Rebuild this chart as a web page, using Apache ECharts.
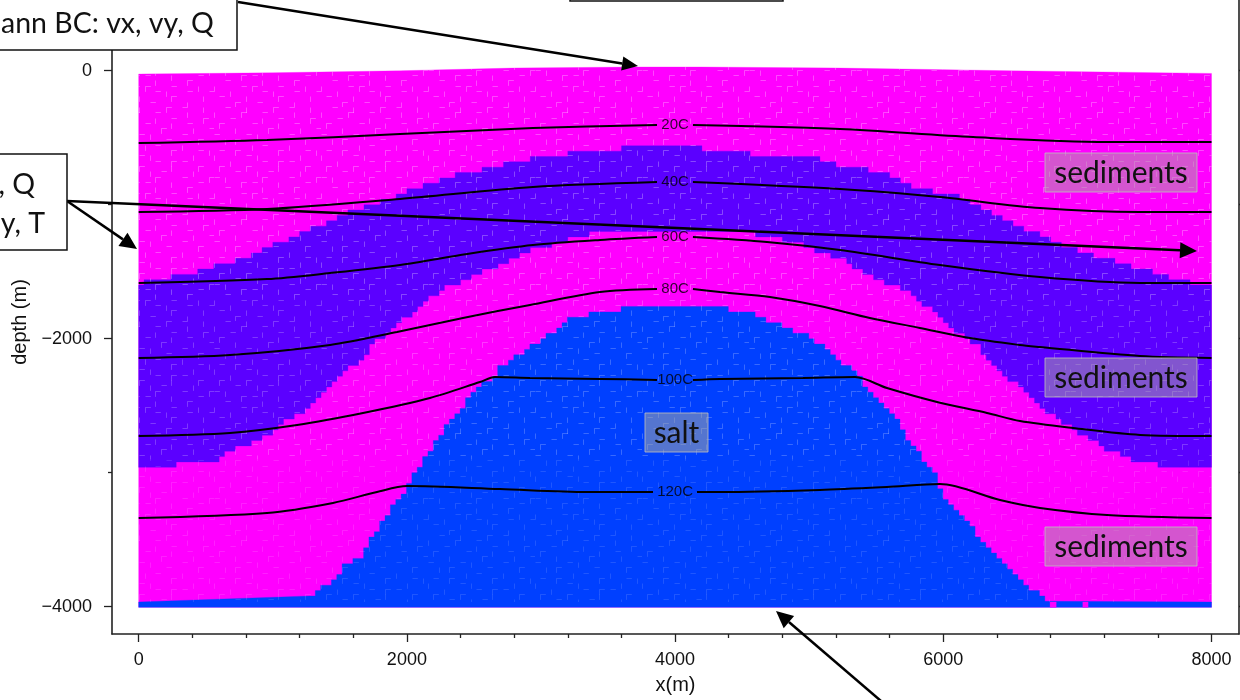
<!DOCTYPE html>
<html><head><meta charset="utf-8">
<style>html,body{margin:0;padding:0;background:#fff}#c{width:1240px;height:700px}</style>
<script src="https://cdn.jsdelivr.net/npm/echarts@6/dist/echarts.min.js"></script>
</head><body><div id="c"></div>
<script>
// ----- values (x in m, depth in m) -----
const surfaceTop = [[0,-25],[1000,-15],[1950,0],[2790,20],[3690,28],[4190,28],[5230,20],[6500,0],[8000,-20]];
const domainBottom = -4005;
const saltSheetTop = -3965;
const saltSheetGaps = [[6796,6842],[7040,7080]];
const purpleTop = [[0,-1592],[278,-1532],[480,-1495],[606,-1450],[770,-1412],[1039,-1286],[1166,-1241],[1330,-1166],[1523,-1077],[1725,-1002],[1949,-928],[2045,-875],[2195,-838],[2321,-793],[2485,-756],[2679,-711],[2881,-666],[3164,-622],[3642,-577],[4201,-577],[4357,-614],[4842,-629],[5118,-666],[5230,-711],[5528,-749],[5804,-875],[6088,-928],[6274,-1017],[6475,-1129],[6684,-1211],[6848,-1286],[7042,-1360],[7280,-1412],[7407,-1465],[7564,-1502],[7676,-1539],[7691,-1577],[8000,-1584]];
const purpleBottom = [[0,-2965],[250,-2943],[554,-2921],[644,-2868],[755,-2808],[964,-2718],[1106,-2607],[1240,-2532],[1330,-2443],[1479,-2293],[1628,-2181],[1762,-2032],[1889,-1920],[2045,-1801],[2262,-1636],[2381,-1584],[2530,-1510],[2746,-1427],[2918,-1338],[2992,-1323],[3164,-1278],[3291,-1226],[3604,-1189],[4335,-1204],[4685,-1226],[4879,-1278],[5006,-1323],[5118,-1375],[5230,-1391],[5327,-1465],[5517,-1562],[5714,-1636],[5878,-1763],[5990,-1845],[6072,-1935],[6251,-2047],[6400,-2211],[6482,-2323],[6572,-2345],[6669,-2458],[6870,-2607],[7072,-2734],[7191,-2809],[7445,-2920],[7765,-2958],[8000,-2965]];
const saltTop = [[1277,-3965],[1315,-3890],[1404,-3838],[1449,-3801],[1523,-3711],[1561,-3674],[1650,-3637],[1688,-3562],[1762,-3450],[1852,-3331],[1926,-3204],[2001,-3152],[2045,-3003],[2150,-2883],[2232,-2756],[2321,-2607],[2418,-2510],[2523,-2361],[2642,-2286],[2717,-2196],[2844,-2122],[2918,-2069],[3030,-1990],[3217,-1860],[3358,-1823],[3567,-1786],[3723,-1741],[4089,-1741],[4283,-1741],[4432,-1786],[4633,-1823],[4722,-1875],[4842,-1913],[4917,-1950],[5006,-1987],[5118,-2069],[5208,-2144],[5320,-2233],[5402,-2323],[5528,-2473],[5640,-2584],[5729,-2733],[5804,-2808],[5841,-2883],[5923,-2980],[5960,-3077],[5998,-3204],[6162,-3331],[6236,-3450],[6363,-3599],[6520,-3763],[6684,-3890],[6796,-3965]];
const contour20 = [[0,-540],[957,-517],[1949,-472],[2940,-428],[3865,-405],null,[4133,-405],[5230,-435],[6222,-495],[7221,-532],[8000,-532]];
const contour40 = [[0,-1055],[957,-1032],[1949,-957],[2940,-868],[3865,-831],null,[4133,-831],[5230,-883],[5975,-943],[6721,-1025],[7467,-1055],[8000,-1055]];
const contour60 = [[0,-1584],[957,-1555],[1427,-1510],[1949,-1450],[2449,-1368],[2940,-1301],[3440,-1263],[3865,-1241],null,[4133,-1241],[4685,-1278],[5230,-1338],[5975,-1450],[6721,-1540],[7467,-1584],[8000,-1584]];
const contour80 = [[0,-2144],[681,-2122],[1427,-2047],[1926,-1950],[2418,-1845],[2918,-1748],[3440,-1651],[3865,-1629],null,[4133,-1629],[4335,-1652],[4707,-1689],[5079,-1756],[5452,-1845],[5825,-1920],[6198,-1995],[6570,-2047],[6721,-2062],[7467,-2130],[8000,-2144]];
const contour100 = [[0,-2726],[681,-2703],[1181,-2644],[1673,-2554],[2172,-2442],[2545,-2323],[2657,-2286],[2918,-2293],[3440,-2300],[3865,-2308],null,[4133,-2308],[4335,-2300],[4953,-2293],[5342,-2286],[5580,-2368],[5953,-2472],[6326,-2554],[6572,-2614],[6967,-2666],[7467,-2718],[8000,-2726]];
const contour120 = [[0,-3338],[957,-3301],[1449,-3226],[1777,-3144],[2001,-3100],[2694,-3122],[3343,-3144],[3835,-3144],null,[4163,-3144],[4335,-3144],[5079,-3129],[5579,-3107],[5975,-3085],[6423,-3204],[6721,-3263],[7221,-3315],[8000,-3338]];
const contourLabels = [[4000,-405,'20C'],[4000,-831,'40C'],[4000,-1241,'60C'],[4000,-1629,'80C'],[4000,-2308,'100C'],[4000,-3144,'120C']];
const xMajor = [0,2000,4000,6000,8000];
const xMinor = [400,800,1200,1600,2400,2800,3200,3600,4400,4800,5200,5600,6400,6800,7200,7600];
const yMajor = [0,-2000,-4000];
const yMinor = [-1000,-3000];
const AXIS_COL = '#222';
const BOX_FONT = 'Lato, "Open Sans", sans-serif';
const CELL = 40;

// mesh texture: a hand-drawn tile of faint element edges (h = horizontal, v = vertical, b = both)
const MESH_TILE = [
  '..h...v....b..h...v.',
  'v....b...h.....v....',
  '...h.....v..h.....b.',
  '.b.....h....v..h....',
  '....v.....b.....v..h',
  'h.....h.v.....h.....',
  '..v.b......h.....b..',
  '.......v.h....v.....',
  '.h..b.......b....h.v',
  'v.....h.v.......v...',
  '...v.....h..b.h.....',
  '.b....b.....v....b..',
  '....h...v.h.....v...',
  'h.v......b....h....b',
  '.....b.h....v....h..',
  '..h......v.....b....',
  'v....h.b....h....v..',
  '...v.....h.v...h...h',
  '.h....v.....b.....v.',
  '....b...h......v....'
];
function meshPattern(alpha){
  const s=5.36,n=MESH_TILE.length,cv=document.createElement('canvas');
  cv.width=cv.height=Math.round(s*n);
  const g=cv.getContext('2d');
  g.strokeStyle='rgba(255,255,255,'+alpha+')';g.lineWidth=1;g.beginPath();
  MESH_TILE.forEach((row,j)=>{[...row].forEach((c,i)=>{
    const x=Math.round(i*s)+.5,y=Math.round(j*s)+.5;
    if(c==='h'||c==='b'){g.moveTo(x,y);g.lineTo(x+s,y);}
    if(c==='v'||c==='b'){g.moveTo(x,y);g.lineTo(x,y+s);}
  });});
  g.stroke();
  return {image:cv,repeat:'repeat'};
}
const meshUpper=meshPattern(0.28), meshMiddle=meshPattern(0.22), meshLower=meshPattern(0.12);

function depthAt(line, x){
  for(let i=1;i<line.length;i++){
    if(x<=line[i][0]){
      const a=line[i-1],b=line[i],t=(x-a[0])/((b[0]-a[0])||1);
      return a[1]+(b[1]-a[1])*t;
    }
  }
  return line[line.length-1][1];
}
// mesh cells: a boundary is drawn as a staircase of 40 m cells
function stairs(line){
  const out=[], x0=line[0][0], x1=line[line.length-1][0];
  for(let x=x0;x<x1;x+=CELL){
    const xe=Math.min(x+CELL,x1);
    const d=Math.round(depthAt(line,(x+xe)/2)/CELL)*CELL;
    out.push([x,d],[xe,d]);
  }
  return out;
}
function polygonItem(api,pts,fill){
  return {type:'polygon',shape:{points:pts.map(p=>api.coord(p))},style:{fill:fill,stroke:fill,lineWidth:0.3}};
}
function meshItem(api,pts,pat){
  return {type:'polygon',shape:{points:pts.map(p=>api.coord(p))},style:{fill:pat}};
}
const layers = {
  type:'custom',name:'materials',silent:true,clip:true,z:1,data:[[0,0]],
  renderItem(params,api){
    const band=stairs(purpleTop).concat(stairs(purpleBottom).reverse());
    const salt=stairs(saltTop).concat([[8000,saltSheetTop],[8000,domainBottom],[0,domainBottom],[0,saltSheetTop]]);
    const dom=surfaceTop.concat([[8000,domainBottom],[0,domainBottom]]);
    const gaps=saltSheetGaps.map(g=>polygonItem(api,[[g[0],saltSheetTop],[g[1],saltSheetTop],[g[1],domainBottom],[g[0],domainBottom]],'#FF00FF'));
    return {type:'group',children:[
      polygonItem(api,dom,'#FF00FF'),
      polygonItem(api,band,'#5B00FF'),
      polygonItem(api,salt,'#0040FF')
    ].concat(gaps,[
      meshItem(api,surfaceTop.concat([[8000,-1700],[0,-1700]]),meshUpper),
      meshItem(api,[[0,-1700],[8000,-1700],[8000,-2900],[0,-2900]],meshMiddle),
      meshItem(api,[[0,-2900],[8000,-2900],[8000,saltSheetTop],[0,saltSheetTop]],meshLower)
    ])};
  }
};
const contourSeries = [contour20,contour40,contour60,contour80,contour100,contour120].map((d,i)=>({
  type:'line',name:'T'+(20+i*20),data:d.map(p=>p===null?[null,null]:p),connectNulls:false,showSymbol:false,silent:true,
  smooth:0.3,lineStyle:{color:'#000',width:2},z:3
}));
const labelSeries = {
  type:'scatter',name:'contour labels',symbolSize:0,silent:true,z:4,
  data:contourLabels.map(l=>({value:[l[0],l[1]],name:l[2]})),
  label:{show:true,position:'inside',formatter:p=>p.name,color:'#000',fontFamily:'"Liberation Sans",Arial,sans-serif',fontSize:15}
};
function ax(o){return Object.assign({type:'value',scale:true,splitLine:{show:false}},o);}
const xR={min:-199,max:8205}, yR={min:-4204,max:528};
const tickS=(len)=>({show:true,length:len,lineStyle:{color:AXIS_COL,width:1.3}});
const lineS={show:true,onZero:false,lineStyle:{color:AXIS_COL,width:1.6}};
const noLine={show:false,onZero:false};
const labelFont={color:'#111',fontFamily:'"Liberation Sans",Arial,sans-serif',fontSize:18};
const nameFont={color:'#111',fontFamily:'"Liberation Sans",Arial,sans-serif',fontSize:20};
const fmt=v=>String(v).replace('-','\u2212');

function boxRect(x,y,w,h){return {type:'rect',z:20,shape:{x,y,width:w,height:h},style:{fill:'#fff',stroke:'#111',lineWidth:1.5}};}
function boxText(x,y,t,align){return {type:'text',z:21,x,y,style:{text:t,fill:'#111',font:'28.5px '+BOX_FONT,textAlign:align||'left',textVerticalAlign:'middle'}};}
function tag(x,y,w,h,t){return [
  {type:'rect',z:10,shape:{x,y,width:w,height:h},style:{fill:'rgba(170,170,160,0.5)',stroke:'rgba(190,190,190,0.8)',lineWidth:1}},
  {type:'text',z:11,x:x+w/2,y:y+h/2+1,style:{text:t,fill:'#111',font:'30px '+BOX_FONT,textAlign:'center',textVerticalAlign:'middle'}}
];}
function arrow(x0,y0,x1,y1,hl,hw){
  const dx=x1-x0,dy=y1-y0,L=Math.hypot(dx,dy),ux=dx/L,uy=dy/L;
  const bx=x1-ux*hl,by=y1-uy*hl;
  return [
    {type:'line',z:15,shape:{x1:x0,y1:y0,x2:bx,y2:by},style:{stroke:'#000',lineWidth:2.5}},
    {type:'polygon',z:15,shape:{points:[[x1,y1],[bx-uy*hw/2,by+ux*hw/2],[bx+uy*hw/2,by-ux*hw/2]]},style:{fill:'#000'}}
  ];
}
const chart=echarts.init(document.getElementById('c'),null,{renderer:'canvas'});
chart.setOption({
  animation:false,backgroundColor:'#fff',
  grid:{left:112,right:1,top:0,bottom:66,containLabel:false},
  xAxis:[
    ax({...xR,position:'bottom',name:'x(m)',nameLocation:'middle',nameGap:41,nameTextStyle:nameFont,axisLine:lineS,axisTick:{...tickS(8),customValues:xMajor},axisLabel:{...labelFont,margin:17,customValues:xMajor,formatter:fmt}}),
    ax({...xR,position:'bottom',axisLine:noLine,axisTick:{...tickS(4),customValues:xMinor},axisLabel:{show:false}})
  ],
  yAxis:[
    ax({...yR,position:'left',name:'depth (m)',nameLocation:'middle',nameGap:74,nameRotate:90,nameTextStyle:{...nameFont,padding:[0,10,0,0]},axisLine:lineS,axisTick:{...tickS(8),customValues:yMajor},axisLabel:{...labelFont,margin:20,customValues:yMajor,formatter:fmt}}),
    ax({...yR,position:'left',axisLine:noLine,axisTick:{...tickS(4),customValues:yMinor},axisLabel:{show:false}}),
    ax({...yR,position:'right',axisLine:lineS,axisTick:{...tickS(4),customValues:yMajor.concat(yMinor)},axisLabel:{show:false}})
  ],
  series:[layers].concat(contourSeries,[labelSeries]),
  graphic:[].concat(
    tag(1045,153,152,39,'sediments'),
    tag(1045,358,152,39,'sediments'),
    tag(1045,527,152,39,'sediments'),
    tag(645,413,63,39,'salt'),
    arrow(238,2,638,66,16,14),
    arrow(67,201,1197,251,17,16),
    arrow(67,201,137,249,17,16),
    arrow(881,701,776,611,17,16),
    [boxRect(-5,-10,242,60),boxText(1,24,'ann BC: vx, vy, Q'),
     boxRect(-5,154,72,96),boxText(35,185,', Q','right'),boxText(45,224,'y, T','right'),
     boxRect(570,-40,213,41)]
  )
});
</script></body></html>
